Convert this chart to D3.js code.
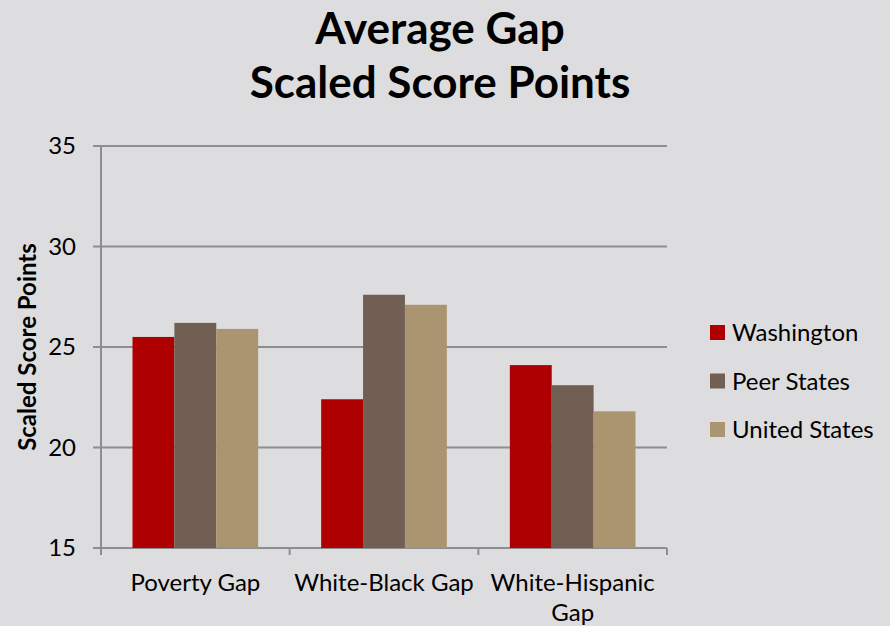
<!DOCTYPE html>
<meta charset="utf-8">
<style>
body { margin: 0; background: #dddddf; }
text { font-family: Lato, "Open Sans", sans-serif; fill: #000; }
</style>
<svg width="890" height="626"></svg>
<script src="https://d3js.org/d3.v7.min.js"></script>
<script>

var categories = ["Poverty Gap", "White-Black Gap", "White-Hispanic Gap"];
var series = ["Washington", "Peer States", "United States"];
var washington = [25.5, 22.4, 24.1];
var peerStates = [26.2, 27.6, 23.1];
var unitedStates = [25.9, 27.1, 21.8];
var yTicks = [15, 20, 25, 30, 35];
var colors = ["#ae0000", "#715f53", "#ab9470"];

var values = [washington, peerStates, unitedStates];

var svg = d3.select("svg"),
    margin = {top: 146, right: 223, bottom: 78, left: 101},
    width = +svg.attr("width") - margin.left - margin.right,
    height = +svg.attr("height") - margin.top - margin.bottom;

svg.append("rect").attr("width", 890).attr("height", 626).attr("fill", "#dddddf");

var g = svg.append("g").attr("transform", "translate(" + margin.left + "," + margin.top + ")");

var x0 = d3.scaleBand().domain(categories).range([0, width]).paddingInner(0.334).paddingOuter(0.167);
var x = d3.scaleBand().domain(categories).range([0, width]);
var x1 = d3.scaleBand().domain(series).range([0, x0.bandwidth()]);
var y = d3.scaleLinear().domain([15, 35]).range([height, 0]);

// gridlines
g.selectAll(".grid")
  .data(yTicks)
  .enter().append("line")
    .attr("x1", -8)
    .attr("x2", width)
    .attr("y1", function(d) { return y(d); })
    .attr("y2", function(d) { return y(d); })
    .attr("stroke", "#8e8e8e")
    .attr("stroke-width", 2);

// bars
var group = g.selectAll(".cat")
  .data(categories)
  .enter().append("g")
    .attr("transform", function(d) { return "translate(" + x0(d) + ",0)"; });

group.selectAll("rect")
  .data(function(d, i) { return series.map(function(s, j) { return {s: s, j: j, v: values[j][i]}; }); })
  .enter().append("rect")
    .attr("x", function(d) { return x1(d.s); })
    .attr("width", x1.bandwidth())
    .attr("y", function(d) { return y(d.v); })
    .attr("height", function(d) { return height - y(d.v); })
    .attr("fill", function(d) { return colors[d.j]; });

// y axis line
g.append("line")
    .attr("x1", 0).attr("x2", 0)
    .attr("y1", 0).attr("y2", height + 1)
    .attr("stroke", "#8e8e8e")
    .attr("stroke-width", 2);

// x axis ticks
var xTickPos = categories.map(function(c) { return x(c); }).concat([width]);
g.selectAll(".xtick")
  .data(xTickPos)
  .enter().append("line")
    .attr("x1", function(d) { return d; })
    .attr("x2", function(d) { return d; })
    .attr("y1", height)
    .attr("y2", height + 7)
    .attr("stroke", "#8e8e8e")
    .attr("stroke-width", 2);

// y tick labels
g.selectAll(".ylab")
  .data(yTicks)
  .enter().append("text")
    .attr("x", -25)
    .attr("y", function(d) { return y(d); })
    .attr("dy", "0.35em")
    .attr("text-anchor", "end")
    .style("font-size", "24px")
    .text(function(d) { return d; });

// x labels
g.selectAll(".xlab")
  .data(categories)
  .enter().append("text")
    .attr("transform", function(d) { return "translate(" + (x(d) + x.bandwidth() / 2) + "," + (height + 43) + ")"; })
    .attr("text-anchor", "middle")
    .style("font-size", "24px")
    .each(function(d) {
      var t = d3.select(this);
      var lines = d === "White-Hispanic Gap" ? ["White-Hispanic", "Gap"] : [d];
      lines.forEach(function(l, i) {
        t.append("tspan").attr("x", 0).attr("dy", i ? 30 : 0).text(l);
      });
    });

// y axis title
svg.append("text")
    .attr("transform", "translate(36," + (margin.top + height / 2) + ") rotate(-90)")
    .attr("text-anchor", "middle")
    .style("font-size", "24px")
    .style("font-weight", "bold")
    .text("Scaled Score Points");

// title
var title = svg.append("text")
    .attr("text-anchor", "middle")
    .style("font-size", "44px")
    .style("font-weight", "bold");
title.append("tspan").attr("x", 440).attr("y", 44).text("Average Gap");
title.append("tspan").attr("x", 440).attr("y", 98).text("Scaled Score Points");

// legend
var legend = svg.append("g").attr("transform", "translate(710,325)");
var item = legend.selectAll("g")
  .data(series)
  .enter().append("g")
    .attr("transform", function(d, i) { return "translate(0," + (i * 48.5) + ")"; });
item.append("rect")
    .attr("width", 15)
    .attr("height", 15)
    .attr("fill", function(d, i) { return colors[i]; });
item.append("text")
    .attr("x", 22)
    .attr("y", 8)
    .attr("dy", "0.35em")
    .style("font-size", "24px")
    .text(function(d) { return d; });

</script>
